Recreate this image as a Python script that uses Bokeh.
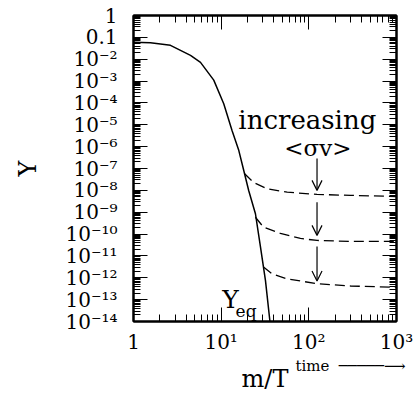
from bokeh.plotting import figure
from bokeh.models import FixedTicker, LogAxis, Arrow, OpenHead, Label, Title
from bokeh.embed import file_html
from bokeh.resources import INLINE

# ---- data ----
yeq_x = [1, 1.56, 2.64, 4.47, 5.81, 8.23, 10.7, 13.3, 15.9, 18.1, 20.6, 24.6, 28.1, 32.0, 36.0]
yeq_y = [6.0e-2, 5.6e-2, 4.3e-2, 1.5e-2, 7.2e-3, 1.1e-3, 9.1e-5, 5.5e-6, 6.6e-7, 8.1e-8,
         9.8e-9, 8.5e-10, 2.5e-11, 7.6e-13, 1.0e-14]

top_x = [18.4, 23.4, 33.5, 56.6, 124, 299, 708, 1000]
top_y = [5.9e-8, 2.3e-8, 1.17e-8, 8.3e-9, 6.5e-9, 5.9e-9, 5.4e-9, 5.2e-9]

mid_x = [24.6, 30.3, 47.4, 80.2, 124, 299, 1000]
mid_y = [5.9e-10, 2.1e-10, 1.07e-10, 6.3e-11, 5.1e-11, 4.6e-11, 4.6e-11]

bot_x = [30.4, 38.1, 56.6, 124, 299, 1000]
bot_y = [3.1e-12, 1.5e-12, 8.9e-13, 5.4e-13, 4.2e-13, 3.7e-13]

x_ticks = [1, 10, 100, 1000]
x_tick_labels = ["1", "10¹", "10²", "10³"]
y_ticks = [1, 0.1, 1e-2, 1e-3, 1e-4, 1e-5, 1e-6, 1e-7, 1e-8, 1e-9, 1e-10, 1e-11, 1e-12, 1e-13, 1e-14]
y_tick_labels = ["1", "0.1", "10⁻²", "10⁻³", "10⁻⁴", "10⁻⁵", "10⁻⁶", "10⁻⁷", "10⁻⁸",
                 "10⁻⁹", "10⁻¹⁰", "10⁻¹¹", "10⁻¹²", "10⁻¹³", "10⁻¹⁴"]

FONT = "DejaVu Serif"

x_minor = [m * 10.0 ** k for k in range(0, 3) for m in range(2, 10)]
y_minor = [m * 10.0 ** k for k in range(-14, 0) for m in range(2, 10)]

p = figure(width=418, height=395, x_axis_type="log", y_axis_type="log",
           x_range=(1, 1000), y_range=(1e-14, 1),
           output_backend="svg", toolbar_location=None,
           min_border_left=133, min_border_right=22, min_border_top=15, min_border_bottom=74)
p.grid.visible = False
p.outline_line_color = "black"
p.outline_line_width = 2
p.background_fill_color = "white"
p.border_fill_color = "white"

bottom_axis = p.below[0]
left_axis = p.left[0]

xt = FixedTicker(ticks=x_ticks, minor_ticks=x_minor)
yt = FixedTicker(ticks=y_ticks, minor_ticks=y_minor)
bottom_axis.ticker = xt
left_axis.ticker = yt

top_axis = LogAxis(ticker=xt, major_label_overrides={float(v): " " for v in x_ticks})
right_axis = LogAxis(ticker=yt, major_label_overrides={float(v): " " for v in y_ticks})
p.add_layout(top_axis, "above")
p.add_layout(right_axis, "right")

for ax in [bottom_axis, left_axis, top_axis, right_axis]:
    ax.major_tick_in = 14
    ax.major_tick_out = 0
    ax.minor_tick_in = 7
    ax.minor_tick_out = 0
    ax.axis_line_width = 2
    ax.axis_line_color = "black"
    ax.major_tick_line_color = "black"
    ax.minor_tick_line_color = "black"
    ax.major_label_text_font = FONT
    ax.major_label_text_color = "black"
    ax.axis_label_text_font = FONT
    ax.axis_label_text_font_style = "normal"
    ax.axis_label_text_color = "black"

top_axis.major_label_text_font_size = "2px"
right_axis.major_label_text_font_size = "2px"
top_axis.major_label_standoff = 0
right_axis.major_label_standoff = 0

bottom_axis.major_label_overrides = {float(v): s for v, s in zip(x_ticks, x_tick_labels)}
left_axis.major_label_overrides = {float(v): s for v, s in zip(y_ticks, y_tick_labels)}
bottom_axis.major_label_text_font_size = "20px"
left_axis.major_label_text_font_size = "20px"
bottom_axis.major_label_standoff = 8
left_axis.major_label_standoff = 16

# "time ->" sits under the tick labels, towards the right end
time_title = Title(text="time\u00a0\u00a0─────⟶", align="right", offset=-9, standoff=-3,
                   text_font=FONT, text_font_size="15px", text_font_style="normal",
                   text_color="black")

# bare bottom axis only carries the "m/T" title
mt_axis = LogAxis(ticker=FixedTicker(ticks=[]), axis_label="m/T",
                  axis_line_color=None, major_tick_line_color=None, minor_tick_line_color=None,
                  axis_label_text_font=FONT, axis_label_text_font_style="normal",
                  axis_label_text_font_size="24px", axis_label_text_color="black",
                  axis_label_standoff=-9, major_label_standoff=0)
p.add_layout(time_title, "below")
p.add_layout(mt_axis, "below")
p.below = [bottom_axis, time_title, mt_axis]

left_axis.axis_label = "Y"
left_axis.axis_label_text_font_size = "24px"
left_axis.axis_label_standoff = 20

p.line(yeq_x, yeq_y, line_color="black", line_width=1.5)
for xs, ys in [(top_x, top_y), (mid_x, mid_y), (bot_x, bot_y)]:
    p.line(xs, ys, line_color="black", line_width=1.3, line_dash="10 5")

# arrows showing increasing <sigma v>
arrow_x = 124
for ys, ye in [(10 ** -6.54, 10 ** -8.0), (10 ** -8.54, 10 ** -10.06), (10 ** -10.57, 10 ** -12.15)]:
    p.add_layout(Arrow(x_start=arrow_x, y_start=ys, x_end=arrow_x, y_end=ye,
                       line_width=1.2, line_color="black",
                       end=OpenHead(size=10, line_width=1.2, line_color="black")))

p.add_layout(Label(x=15.7, y=10 ** -4.8, text="increasing", text_font=FONT,
                   text_font_size="26px", text_align="left", text_baseline="alphabetic",
                   text_color="black"))
p.add_layout(Label(x=127, y=10 ** -6.08, text="<σv>", text_font=FONT,
                   text_font_size="23px", text_align="center", text_baseline="middle",
                   text_color="black"))
p.add_layout(Label(x=10.26, y=10 ** -12.99, text="Y", text_font=FONT,
                   text_font_size="25px", text_align="left", text_baseline="alphabetic",
                   text_color="black"))
p.add_layout(Label(x=14.6, y=10 ** -13.5, text="eq", text_font=FONT,
                   text_font_size="17px", text_align="left", text_baseline="alphabetic",
                   text_color="black"))

open("out.html", "w").write(file_html(p, INLINE))
